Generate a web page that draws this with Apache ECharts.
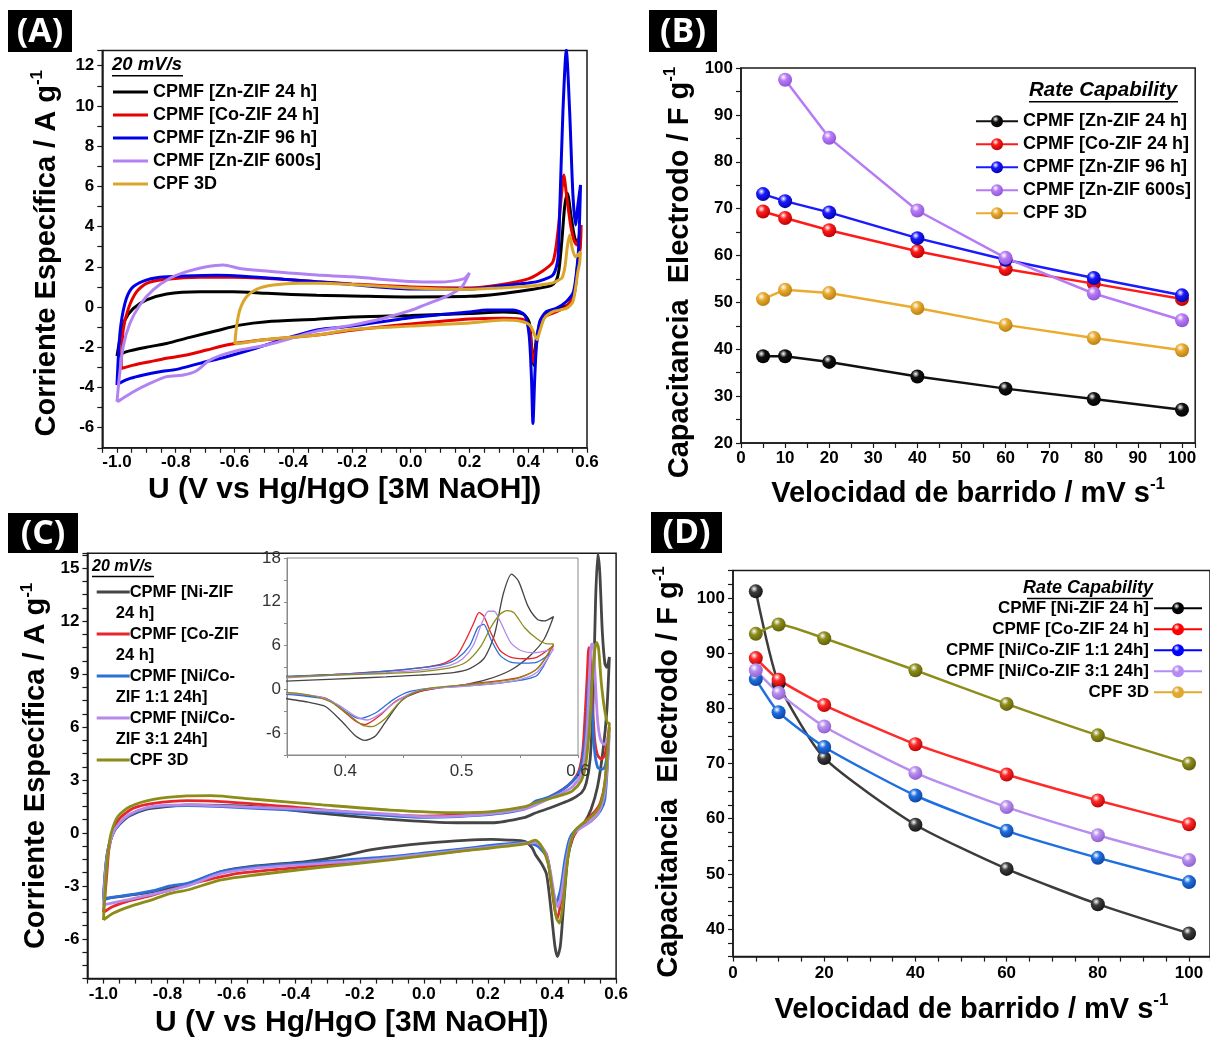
<!DOCTYPE html>
<html><head><meta charset="utf-8">
<script src="https://cdn.jsdelivr.net/npm/echarts@6/dist/echarts.min.js"></script>
<style>html,body{margin:0;padding:0;background:#fff}#c{width:1210px;height:1038px}</style>
</head><body><div id="c"></div>
<script>
// ---------------- DATA ----------------
// Panel A: cyclic voltammograms at 20 mV/s  [U (V), j (A/g)]
const cvA_ZnZIF24h = [[-1.0,-2.44],[-0.99,-1.6],[-0.973,-0.65],[-0.944,-0.07],[-0.899,0.35],[-0.831,0.65],[-0.718,0.76],[-0.605,0.76],[-0.49,0.68],[-0.32,0.58],[-0.2,0.55],[0,0.5],[0.2,0.53],[0.3,0.65],[0.4,0.85],[0.475,1.05],[0.495,1.3],[0.505,1.9],[0.515,3.4],[0.524,5.0],[0.533,5.66],[0.547,4.4],[0.558,3.45],[0.568,3.2],[0.577,3.3],
  [0.575,2.8],[0.569,2.25],[0.558,0.76],[0.541,0.18],[0.507,-0.07],[0.473,-0.23],[0.445,-0.73],[0.428,-1.5],[0.419,-2.89],[0.411,-1.9],[0.403,-0.75],[0.383,-0.35],[0.315,-0.25],[0.2,-0.32],[0,-0.42],[-0.2,-0.5],[-0.32,-0.61],[-0.49,-0.73],[-0.582,-0.9],[-0.661,-1.18],[-0.752,-1.51],[-0.831,-1.81],[-0.888,-1.97],[-0.967,-2.22],[-1.0,-2.44]];
const cvA_CoZIF24h = [[-0.986,-3.06],[-0.979,-1.14],[-0.961,-0.07],[-0.933,0.76],[-0.899,1.18],[-0.831,1.38],[-0.718,1.48],[-0.605,1.48],[-0.434,1.38],[-0.32,1.26],[-0.2,1.15],[0,1.0],[0.2,0.95],[0.3,1.1],[0.4,1.4],[0.445,1.75],[0.484,2.25],[0.501,3.75],[0.513,5.57],[0.521,6.57],[0.53,5.6],[0.545,4.0],[0.556,3.3],[0.566,3.08],[0.573,3.5],[0.58,4.08],
  [0.578,3.2],[0.569,2.09],[0.554,0.6],[0.529,0.02],[0.484,-0.31],[0.445,-0.56],[0.433,-1.3],[0.424,-2.3],[0.418,-2.75],[0.411,-2.0],[0.405,-1.2],[0.388,-0.65],[0.315,-0.56],[0.2,-0.6],[0,-0.85],[-0.2,-1.15],[-0.32,-1.39],[-0.49,-1.61],[-0.582,-1.78],[-0.627,-1.89],[-0.695,-2.14],[-0.763,-2.39],[-0.831,-2.55],[-0.888,-2.72],[-0.944,-2.89],[-0.986,-3.06]];
const cvA_ZnZIF96h = [[-1.0,-3.88],[-0.99,-1.31],[-0.973,0.18],[-0.95,0.93],[-0.91,1.29],[-0.854,1.48],[-0.774,1.54],[-0.661,1.58],[-0.548,1.51],[-0.434,1.38],[-0.32,1.26],[-0.2,1.12],[0,0.9],[0.2,0.9],[0.3,1.05],[0.4,1.2],[0.43,1.26],[0.484,1.59],[0.501,2.4],[0.507,4.74],[0.518,9.7],[0.5295,12.79],[0.541,9.7],[0.552,5.6],[0.561,4.08],[0.569,5.07],[0.578,6.07],
  [0.573,3.5],[0.569,2.4],[0.554,0.76],[0.529,0.26],[0.495,-0.07],[0.461,-0.23],[0.439,-0.73],[0.428,-1.89],[0.422,-3.55],[0.416,-5.79],[0.411,-3.55],[0.403,-1.39],[0.388,-0.4],[0.349,-0.15],[0.258,-0.15],[0.2,-0.25],[0,-0.53],[-0.2,-0.95],[-0.32,-1.14],[-0.434,-1.61],[-0.548,-2.14],[-0.627,-2.47],[-0.718,-2.8],[-0.797,-3.1],[-0.854,-3.22],[-0.91,-3.38],[-0.955,-3.55],[-0.99,-3.77],[-1.0,-3.88]];
const cvA_ZnZIF600s = [[-1.0,-4.71],[-0.992,-3.47],[-0.979,-1.97],[-0.956,-0.81],[-0.922,0.1],[-0.877,0.85],[-0.82,1.43],[-0.763,1.76],[-0.695,2.0],[-0.638,2.09],[-0.582,1.92],[-0.514,1.81],[-0.423,1.71],[-0.32,1.59],[-0.2,1.5],[0,1.27],[0.1,1.24],[0.18,1.4],[0.2,1.7],
  [0.176,1.04],[0.15,0.75],[0.11,0.45],[0.059,0.17],[0,-0.17],[-0.098,-0.58],[-0.2,-0.9],[-0.32,-1.2],[-0.49,-1.89],[-0.605,-2.22],[-0.684,-2.64],[-0.729,-3.17],[-0.774,-3.38],[-0.831,-3.46],[-0.888,-3.8],[-0.944,-4.21],[-0.99,-4.63],[-1.0,-4.71]];
const cvA_CPF3D = [[-0.599,-1.84],[-0.593,-0.98],[-0.582,-0.15],[-0.559,0.51],[-0.525,0.88],[-0.468,1.09],[-0.378,1.18],[-0.32,1.18],[-0.2,1.12],[0,0.95],[0.2,0.88],[0.3,0.95],[0.4,1.03],[0.45,1.12],[0.484,1.2],[0.501,1.32],[0.515,1.45],[0.525,2.0],[0.533,3.0],[0.541,3.58],[0.55,2.9],[0.561,2.5],[0.578,2.75],
  [0.575,2.2],[0.569,1.76],[0.552,0.26],[0.529,-0.07],[0.484,-0.23],[0.455,-0.56],[0.439,-1.22],[0.43,-1.62],[0.422,-1.39],[0.405,-0.9],[0.37,-0.7],[0.315,-0.65],[0.2,-0.8],[0,-0.95],[-0.2,-1.12],[-0.32,-1.39],[-0.49,-1.61],[-0.599,-1.84]];

// Panel B: rate capability [F/g] vs scan rate [mV/s]
const rateB = [5, 10, 20, 40, 60, 80, 100];
const capB_ZnZIF24h = [38.5, 38.5, 37.3, 34.2, 31.6, 29.4, 27.1];
const capB_CoZIF24h = [69.4, 68.0, 65.4, 60.9, 57.1, 54.0, 50.7];
const capB_ZnZIF96h = [73.1, 71.6, 69.2, 63.7, 59.1, 55.2, 51.5];
const capB_ZnZIF600s = [null, 97.5, 85.1, 69.6, 59.5, 51.9, 46.2];
const capB_CPF3D = [50.7, 52.7, 52.0, 48.8, 45.2, 42.4, 39.8];

// Panel C: cyclic voltammograms at 20 mV/s (also shown in the inset)
const cvC_NiZIF24h = [[-1.0,-3.7],[-0.994,-2.1],[-0.986,-0.96],[-0.97,-0.02],[-0.949,0.5],[-0.918,0.97],[-0.865,1.35],[-0.802,1.5],[-0.738,1.59],[-0.527,1.49],[-0.316,1.11],[-0.106,0.77],[0.105,0.58],[0.211,0.58],[0.316,0.89],[0.348,1.13],[0.391,1.4],[0.435,1.71],[0.464,1.94],[0.493,2.3],[0.507,2.84],[0.519,4.19],[0.528,7.35],[0.536,13.2],[0.543,15.8],[0.549,14.8],[0.557,11.4],[0.565,9.6],[0.571,9.38],[0.579,9.97],
  [0.571,6.9],[0.559,4.65],[0.542,2.62],[0.522,1.35],[0.501,0.59],[0.478,0.14],[0.464,-0.32],[0.449,-1.44],[0.435,-4.38],[0.426,-6.4],[0.417,-7.0],[0.409,-6.4],[0.397,-4.38],[0.383,-2.35],[0.368,-1.76],[0.348,-1.22],[0.338,-0.85],[0.316,-0.49],[0.264,-0.4],[0.211,-0.36],[0,-0.59],[-0.158,-0.93],[-0.264,-1.34],[-0.369,-1.62],[-0.527,-1.87],[-0.633,-2.19],[-0.738,-2.89],[-0.844,-3.32],[-0.949,-3.6],[-1.0,-3.7]];
const cvC_CoZIF24h = [[-1.0,-4.5],[-0.99,-2.47],[-0.983,-0.96],[-0.97,0.08],[-0.949,0.83],[-0.907,1.4],[-0.844,1.68],[-0.738,1.83],[-0.633,1.78],[-0.422,1.49],[-0.211,1.15],[0,0.96],[0.105,1.02],[0.211,1.11],[0.316,1.4],[0.348,1.71],[0.391,2.03],[0.435,2.48],[0.464,2.93],[0.484,3.52],[0.496,4.65],[0.504,6.9],[0.51,8.93],[0.515,10.5],[0.519,10.06],[0.525,7.8],[0.533,5.32],[0.542,4.42],[0.554,4.19],[0.565,4.42],[0.579,6.0],
  [0.565,2.84],[0.551,1.71],[0.536,1.26],[0.507,0.72],[0.478,0.14],[0.461,-0.41],[0.443,-1.67],[0.429,-3.7],[0.417,-4.83],[0.409,-4.38],[0.397,-2.8],[0.383,-1.22],[0.362,-0.77],[0.348,-0.63],[0.316,-0.59],[0.211,-0.81],[0,-1.25],[-0.211,-1.62],[-0.316,-1.81],[-0.422,-2.0],[-0.58,-2.29],[-0.686,-2.7],[-0.738,-2.95],[-0.844,-3.51],[-0.928,-3.89],[-0.97,-4.17],[-1.0,-4.5]];
const cvC_NiCo11 = [[-1.0,-3.8],[-0.994,-2.1],[-0.986,-0.96],[-0.97,-0.02],[-0.949,0.55],[-0.918,1.02],[-0.865,1.4],[-0.802,1.53],[-0.738,1.55],[-0.527,1.4],[-0.316,1.21],[-0.106,0.98],[0,0.89],[0.105,0.93],[0.211,1.05],[0.316,1.36],[0.348,1.8],[0.391,2.03],[0.435,2.48],[0.464,2.93],[0.484,3.38],[0.496,4.19],[0.507,6.0],[0.514,8.48],[0.519,8.9],[0.525,6.9],[0.533,4.65],[0.542,3.74],[0.554,3.6],[0.565,3.74],[0.576,4.87],
  [0.565,1.94],[0.551,1.26],[0.522,0.68],[0.493,0.36],[0.472,0.14],[0.455,-0.32],[0.441,-1.44],[0.426,-3.25],[0.412,-4.0],[0.4,-3.0],[0.386,-1.44],[0.362,-0.86],[0.348,-0.68],[0.316,-0.55],[0.105,-0.93],[-0.106,-1.34],[-0.316,-1.62],[-0.527,-1.91],[-0.633,-2.19],[-0.738,-2.85],[-0.791,-3.0],[-0.844,-3.27],[-0.918,-3.51],[-0.97,-3.64],[-1.0,-3.8]];
const cvC_NiCo31 = [[-1.0,-4.08],[-0.994,-2.3],[-0.986,-1.06],[-0.97,0.0],[-0.949,0.59],[-0.918,1.06],[-0.865,1.44],[-0.802,1.57],[-0.738,1.59],[-0.527,1.45],[-0.316,1.3],[-0.106,1.06],[0,0.93],[0.105,0.96],[0.211,1.1],[0.316,1.38],[0.348,1.58],[0.391,1.94],[0.435,2.3],[0.464,2.62],[0.49,3.29],[0.501,4.19],[0.51,6.0],[0.517,8.93],[0.523,10.7],[0.528,10.7],[0.533,9.38],[0.542,6.45],[0.551,5.32],[0.562,5.0],[0.579,5.55],
  [0.565,2.39],[0.548,1.26],[0.522,0.68],[0.493,0.32],[0.472,0.05],[0.458,-0.41],[0.443,-1.76],[0.429,-3.47],[0.419,-4.2],[0.409,-3.7],[0.394,-2.12],[0.377,-1.0],[0.348,-0.54],[0.316,-0.57],[0.105,-1.0],[-0.106,-1.42],[-0.316,-1.72],[-0.527,-2.0],[-0.633,-2.29],[-0.738,-3.0],[-0.844,-3.46],[-0.918,-3.76],[-1.0,-4.08]];
const cvC_CPF3D = [[-1.0,-4.93],[-0.994,-3.04],[-0.986,-1.15],[-0.976,-0.02],[-0.955,0.93],[-0.918,1.49],[-0.844,1.91],[-0.738,2.1],[-0.665,2.12],[-0.527,1.91],[-0.316,1.59],[-0.106,1.3],[0.105,1.15],[0.211,1.21],[0.316,1.49],[0.348,1.71],[0.391,1.94],[0.435,2.17],[0.464,2.39],[0.49,2.93],[0.504,3.74],[0.516,5.77],[0.525,8.48],[0.533,10.3],[0.539,10.8],[0.545,10.5],[0.554,8.48],[0.565,6.9],[0.574,6.22],[0.579,6.22],
  [0.565,2.84],[0.548,1.49],[0.522,0.9],[0.493,0.5],[0.472,0.14],[0.458,-0.54],[0.446,-1.89],[0.435,-3.92],[0.423,-5.1],[0.414,-4.83],[0.403,-3.47],[0.388,-1.76],[0.368,-0.77],[0.348,-0.41],[0.316,-0.62],[0.105,-1.06],[-0.106,-1.53],[-0.316,-1.94],[-0.527,-2.38],[-0.633,-2.66],[-0.738,-3.23],[-0.791,-3.42],[-0.844,-3.76],[-0.918,-4.17],[-0.97,-4.55],[-1.0,-4.93]];

// Panel D: rate capability
const rateD = [5, 10, 20, 40, 60, 80, 100];
const capD_NiZIF24h = [101.2, 84.5, 71.0, 58.9, 50.9, 44.5, 39.2];
const capD_CoZIF24h = [89.1, 85.2, 80.6, 73.5, 68.0, 63.3, 59.0];
const capD_NiCo11 = [85.3, 79.3, 73.0, 64.2, 57.8, 52.9, 48.5];
const capD_NiCo31 = [86.9, 82.8, 76.7, 68.3, 62.1, 57.0, 52.5];
const capD_CPF3D = [93.5, 95.2, 92.7, 86.9, 80.8, 75.1, 70.0];

// ---------------- CHART ----------------
const FONT = 'Liberation Sans';
const pairs = (xs, ys) => xs.map((x, i) => [x, ys[i]]).filter(p => p[1] != null);
function fmt(step, dec) {
  return function (v) {
    const k = v / step;
    if (Math.abs(k - Math.round(k)) > 1e-6) return '';
    return dec == null ? String(Math.round(v)) : v.toFixed(dec);
  };
}
function merge(a, b) {
  const r = Object.assign({}, a);
  for (const k in b) {
    const bv = b[k], av = a ? a[k] : undefined;
    if (bv && typeof bv === 'object' && !Array.isArray(bv) && av && typeof av === 'object' && !Array.isArray(av)) r[k] = merge(av, bv);
    else r[k] = bv;
  }
  return r;
}
const supRich = { sup: { fontSize: 17, fontWeight: 'bold', fontFamily: FONT, color: '#000', verticalAlign: 'top' } };
const baseAxis = {
  type: 'value', splitLine: { show: false },
  axisLine: { show: true, onZero: false, lineStyle: { color: '#1a1a1a', width: 1.5 } },
  axisTick: { show: true, length: 5, lineStyle: { color: '#1a1a1a', width: 1.2 } },
  axisLabel: { color: '#000', fontFamily: FONT, fontWeight: 'bold', fontSize: 17, margin: 7 },
  nameLocation: 'middle',
  nameTextStyle: { color: '#000', fontFamily: FONT, fontWeight: 'bold', fontSize: 29, lineHeight: 36, rich: supRich }
};
const ax = o => merge(baseAxis, o);
const insetAxis = o => merge(baseAxis, merge({
  axisLine: { lineStyle: { color: '#8a8a8a', width: 1 } },
  axisTick: { length: 3, lineStyle: { color: '#8a8a8a', width: 1 } },
  axisLabel: { color: '#333', fontWeight: 'normal', fontSize: 17 }, z: 11
}, o));

function ball(c, dark) {
  return { type: 'radial', x: 0.38, y: 0.32, r: 0.75, colorStops: [
    { offset: 0, color: '#ffffff' }, { offset: 0.35, color: c }, { offset: 1, color: dark } ] };
}
function cv(name, data, color, xi, w, z) {
  return { name, type: 'line', xAxisIndex: xi, yAxisIndex: xi, data, smooth: 0.25, symbol: 'none',
    lineStyle: { color, width: w }, itemStyle: { color }, z: z || 2, clip: true };
}
function rate(name, data, color, dark, xi, smooth) {
  return { name, type: 'line', xAxisIndex: xi, yAxisIndex: xi, data, smooth: smooth || false,
    symbol: 'circle', symbolSize: 14, showSymbol: true,
    lineStyle: { color, width: 2.5 }, itemStyle: { color: ball(color, dark) } };
}
const A = ['A|CPMF [Zn-ZIF 24 h]', 'A|CPMF [Co-ZIF 24 h]', 'A|CPMF [Zn-ZIF 96 h]', 'A|CPMF [Zn-ZIF 600s]', 'A|CPF 3D'];
const B = ['B|CPMF [Zn-ZIF 24 h]', 'B|CPMF [Co-ZIF 24 h]', 'B|CPMF [Zn-ZIF 96 h]', 'B|CPMF [Zn-ZIF 600s]', 'B|CPF 3D'];
const C = ['C|CPMF [Ni-ZIF|24 h]', 'C|CPMF [Co-ZIF|24 h]', 'C|CPMF [Ni/Co-|ZIF 1:1 24h]', 'C|CPMF [Ni/Co-|ZIF 3:1 24h]', 'C|CPF 3D'];
const D = ['D|CPMF [Ni-ZIF 24 h]', 'D|CPMF [Ni/Co-ZIF 1:1 24h]', 'D|CPMF [Ni/Co-ZIF 3:1 24h]', 'D|CPF 3D'];
const D5 = ['D|CPMF [Ni-ZIF 24 h]', 'D|CPMF [Co-ZIF 24 h]', 'D|CPMF [Ni/Co-ZIF 1:1 24h]', 'D|CPMF [Ni/Co-ZIF 3:1 24h]', 'D|CPF 3D'];
const strip = n => n.split('|')[1];
const cCol = ['#454545', '#e8262b', '#2d6fd8', '#b58ae8', '#8c8c18'];

// legend C: colored bar + wrapped label (second line indented as in the original)
function cLegendFmt(n) {
  const parts = n.split('|');
  const i = C.indexOf(n);
  let s = '{bar' + i + '|}{t|' + parts[1] + '}';
  if (parts[2]) s += '\n{ind|' + parts[2] + '}';
  return s;
}
const cRich = { t: {}, ind: { padding: [0, 0, 0, 19] } };
cCol.forEach((c, i) => { cRich['bar' + i] = { width: 33, height: 3, backgroundColor: c, verticalAlign: 'middle' }; });

const legendText = { color: '#000', fontFamily: FONT, fontWeight: 'bold', fontSize: 18 };

function panelLabel(txt, x, y, w, h) {
  return [
    { type: 'rect', shape: { x, y, width: w, height: h }, style: { fill: '#000' }, z: 20 },
    { type: 'text', x: x + w / 2, y: y + h / 2 + 1, style: { text: txt, fill: '#fff', font: 'bold 34px "Open Sans"', align: 'center', verticalAlign: 'middle' }, z: 21 }
  ];
}
function uTitle(txt, x, y, size, align, x1, x2) {
  return [
    { type: 'text', x, y, style: { text: txt, fill: '#000', font: 'italic bold ' + size + 'px "' + FONT + '"', align: align, verticalAlign: 'middle' }, z: 20 },
    { type: 'line', shape: { x1, y1: y + size * 0.5 + 1.5, x2, y2: y + size * 0.5 + 1.5 }, style: { stroke: '#000', lineWidth: 1.3 }, z: 20 }
  ];
}

const option = {
  animation: false,
  backgroundColor: '#fff',
  textStyle: { fontFamily: FONT },
  grid: [
    { left: 102.3, top: 50.6, width: 484.7, height: 397.2, show: true, borderColor: '#1a1a1a', borderWidth: 1.5, outerBoundsMode: 'none' },
    { left: 741, top: 68, width: 454.2, height: 375, show: true, borderColor: '#1a1a1a', borderWidth: 1.5, outerBoundsMode: 'none' },
    { left: 87.4, top: 553.2, width: 528.7, height: 425.4, show: true, borderColor: '#1a1a1a', borderWidth: 1.5, outerBoundsMode: 'none' },
    { left: 287, top: 558, width: 291, height: 197, show: true, backgroundColor: '#fff', borderColor: '#8a8a8a', borderWidth: 1, z: 10, outerBoundsMode: 'none' },
    { left: 733, top: 570.4, width: 477, height: 386.2, show: true, borderColor: '#1a1a1a', borderWidth: 1.5, outerBoundsMode: 'none' }
  ],
  xAxis: [
    ax({ gridIndex: 0, min: -1.05, max: 0.6, interval: 0.05, axisLabel: { formatter: fmt(0.2, 1), margin: 6 },
      name: 'U (V vs Hg/HgO [3M NaOH])', nameGap: 22, nameTextStyle: { fontSize: 30 } }),
    ax({ gridIndex: 1, min: 0, max: 103, interval: 5, axisLabel: { formatter: fmt(10), margin: 7 },
      name: 'Velocidad de barrido / mV s{sup|-1}', nameGap: 33 }),
    ax({ gridIndex: 2, min: -1.05, max: 0.6, interval: 0.05, axisLabel: { formatter: fmt(0.2, 1), margin: 7 },
      name: 'U (V vs Hg/HgO [3M NaOH])', nameGap: 26, nameTextStyle: { fontSize: 30 } }),
    insetAxis({ gridIndex: 3, min: 0.35, max: 0.6, interval: 0.05, axisLabel: { formatter: fmt(0.1, 1), margin: 8 } }),
    ax({ gridIndex: 4, min: 0, max: 104.6, interval: 5, axisLabel: { formatter: fmt(20), margin: 8 },
      name: 'Velocidad de barrido / mV s{sup|-1}', nameGap: 35 })
  ],
  yAxis: [
    ax({ gridIndex: 0, min: -7, max: 12.75, interval: 1, axisLabel: { formatter: fmt(2), margin: 8 },
      name: 'Corriente Específica / A g{sup|-1}', nameGap: 37, nameTextStyle: { padding: [0, 8, 0, 0] } }),
    ax({ gridIndex: 1, min: 20, max: 100, interval: 5, axisLabel: { formatter: fmt(10), margin: 8 },
      name: 'Capacitancia  Electrodo / F g{sup|-1}', nameGap: 43, nameTextStyle: { padding: [0, 34, 0, 0] } }),
    ax({ gridIndex: 2, min: -8.25, max: 15.85, interval: 0.75, axisLabel: { formatter: fmt(3), margin: 8 },
      name: 'Corriente Específica / A g{sup|-1}', nameGap: 33 }),
    insetAxis({ gridIndex: 3, min: -9, max: 18, interval: 3, axisLabel: { formatter: fmt(6), margin: 6 } }),
    ax({ gridIndex: 4, min: 35, max: 105, interval: 2.5, axisLabel: { formatter: fmt(10), margin: 8 },
      name: 'Capacitancia  Electrodo / F g{sup|-1}', nameGap: 46, nameTextStyle: { padding: [0, 17, 0, 0] } })
  ],
  legend: [
    { data: A, formatter: strip, icon: 'rect', left: 113, top: 82, orient: 'vertical', padding: 0,
      itemWidth: 35, itemHeight: 3, itemGap: 3, selectedMode: false, textStyle: merge(legendText, { lineHeight: 20 }) },
    { data: B, formatter: strip, left: 975, top: 111.3, orient: 'vertical', padding: 0,
      itemWidth: 42, itemHeight: 15, itemGap: 3, selectedMode: false, textStyle: merge(legendText, { lineHeight: 20 }) },
    { data: C, formatter: cLegendFmt, icon: 'none', left: 91.7, top: 581.5,
      orient: 'vertical', padding: 0, itemWidth: 0, itemHeight: 21, itemGap: 0, selectedMode: false,
      textStyle: merge(legendText, { fontSize: 16.5, lineHeight: 21, rich: cRich }) },
    { data: D5.map((n, i) => {
        const lc = ['#000000', '#ff0000', '#0000ff', '#b38cf5', '#e0aa30'][i];
        return { name: n, itemStyle: { color: ball(lc, lc) }, lineStyle: { color: lc } };
      }),
      formatter: strip, right: 7, top: 598.8, orient: 'vertical', align: 'right', padding: 0,
      itemWidth: 48, itemHeight: 15, itemGap: 2, selectedMode: false, textStyle: merge(legendText, { fontSize: 17, lineHeight: 19 }) }
  ],
  graphic: [].concat(
    panelLabel('(A)', 8, 10, 64, 42),
    panelLabel('(B)', 649, 10, 68, 42),
    panelLabel('(C)', 8, 513, 70, 40),
    panelLabel('(D)', 651, 512, 71, 41),
    uTitle('20 mV/s', 112, 65, 18.5, 'left', 112, 183),
    uTitle('Rate Capability', 1029, 90, 20.5, 'left', 1029, 1178),
    uTitle('20 mV/s', 92, 567, 16, 'left', 92, 154),
    uTitle('Rate Capability', 1153, 588, 18, 'right', 1027, 1153)
  ),
  series: [
    cv(A[0], cvA_ZnZIF24h, '#000000', 0, 3),
    cv(A[1], cvA_CoZIF24h, '#e60000', 0, 3),
    cv(A[2], cvA_ZnZIF96h, '#0000e6', 0, 3),
    cv(A[3], cvA_ZnZIF600s, '#b382f2', 0, 3),
    cv(A[4], cvA_CPF3D, '#d9a52b', 0, 3),

    rate(B[0], pairs(rateB, capB_ZnZIF24h), '#111111', '#000000', 1),
    rate(B[1], pairs(rateB, capB_CoZIF24h), '#ff1a1a', '#b00000', 1),
    rate(B[2], pairs(rateB, capB_ZnZIF96h), '#1a1aff', '#0000a0', 1),
    rate(B[3], pairs(rateB, capB_ZnZIF600s), '#b77af7', '#8a50d0', 1),
    rate(B[4], pairs(rateB, capB_CPF3D), '#eaab2f', '#b07a10', 1),

    cv(C[0], cvC_NiZIF24h, cCol[0], 2, 2.8),
    cv(C[1], cvC_CoZIF24h, cCol[1], 2, 2.8),
    cv(C[2], cvC_NiCo11, cCol[2], 2, 2.8),
    cv(C[3], cvC_NiCo31, cCol[3], 2, 2.8),
    cv(C[4], cvC_CPF3D, cCol[4], 2, 2.8),

    cv('Ci|1', cvC_NiZIF24h, cCol[0], 3, 1.3, 12),
    cv('Ci|2', cvC_CoZIF24h, cCol[1], 3, 1.3, 12),
    cv('Ci|3', cvC_NiCo11, cCol[2], 3, 1.3, 12),
    cv('Ci|4', cvC_NiCo31, cCol[3], 3, 1.3, 12),
    cv('Ci|5', cvC_CPF3D, cCol[4], 3, 1.3, 12),

    rate(D5[0], pairs(rateD, capD_NiZIF24h), '#3c3c3c', '#111111', 4, 0.2),
    rate(D5[1], pairs(rateD, capD_CoZIF24h), '#ff2a2a', '#b00000', 4, 0.2),
    rate(D5[2], pairs(rateD, capD_NiCo11), '#1f6fe0', '#0c3f99', 4, 0.2),
    rate(D5[3], pairs(rateD, capD_NiCo31), '#b88df0', '#8a5cc8', 4, 0.2),
    rate(D5[4], pairs(rateD, capD_CPF3D), '#8d8d1c', '#5a5a08', 4, 0.2)
  ]
};
const chart = echarts.init(document.getElementById('c'));
chart.setOption(option);
</script></body></html>
